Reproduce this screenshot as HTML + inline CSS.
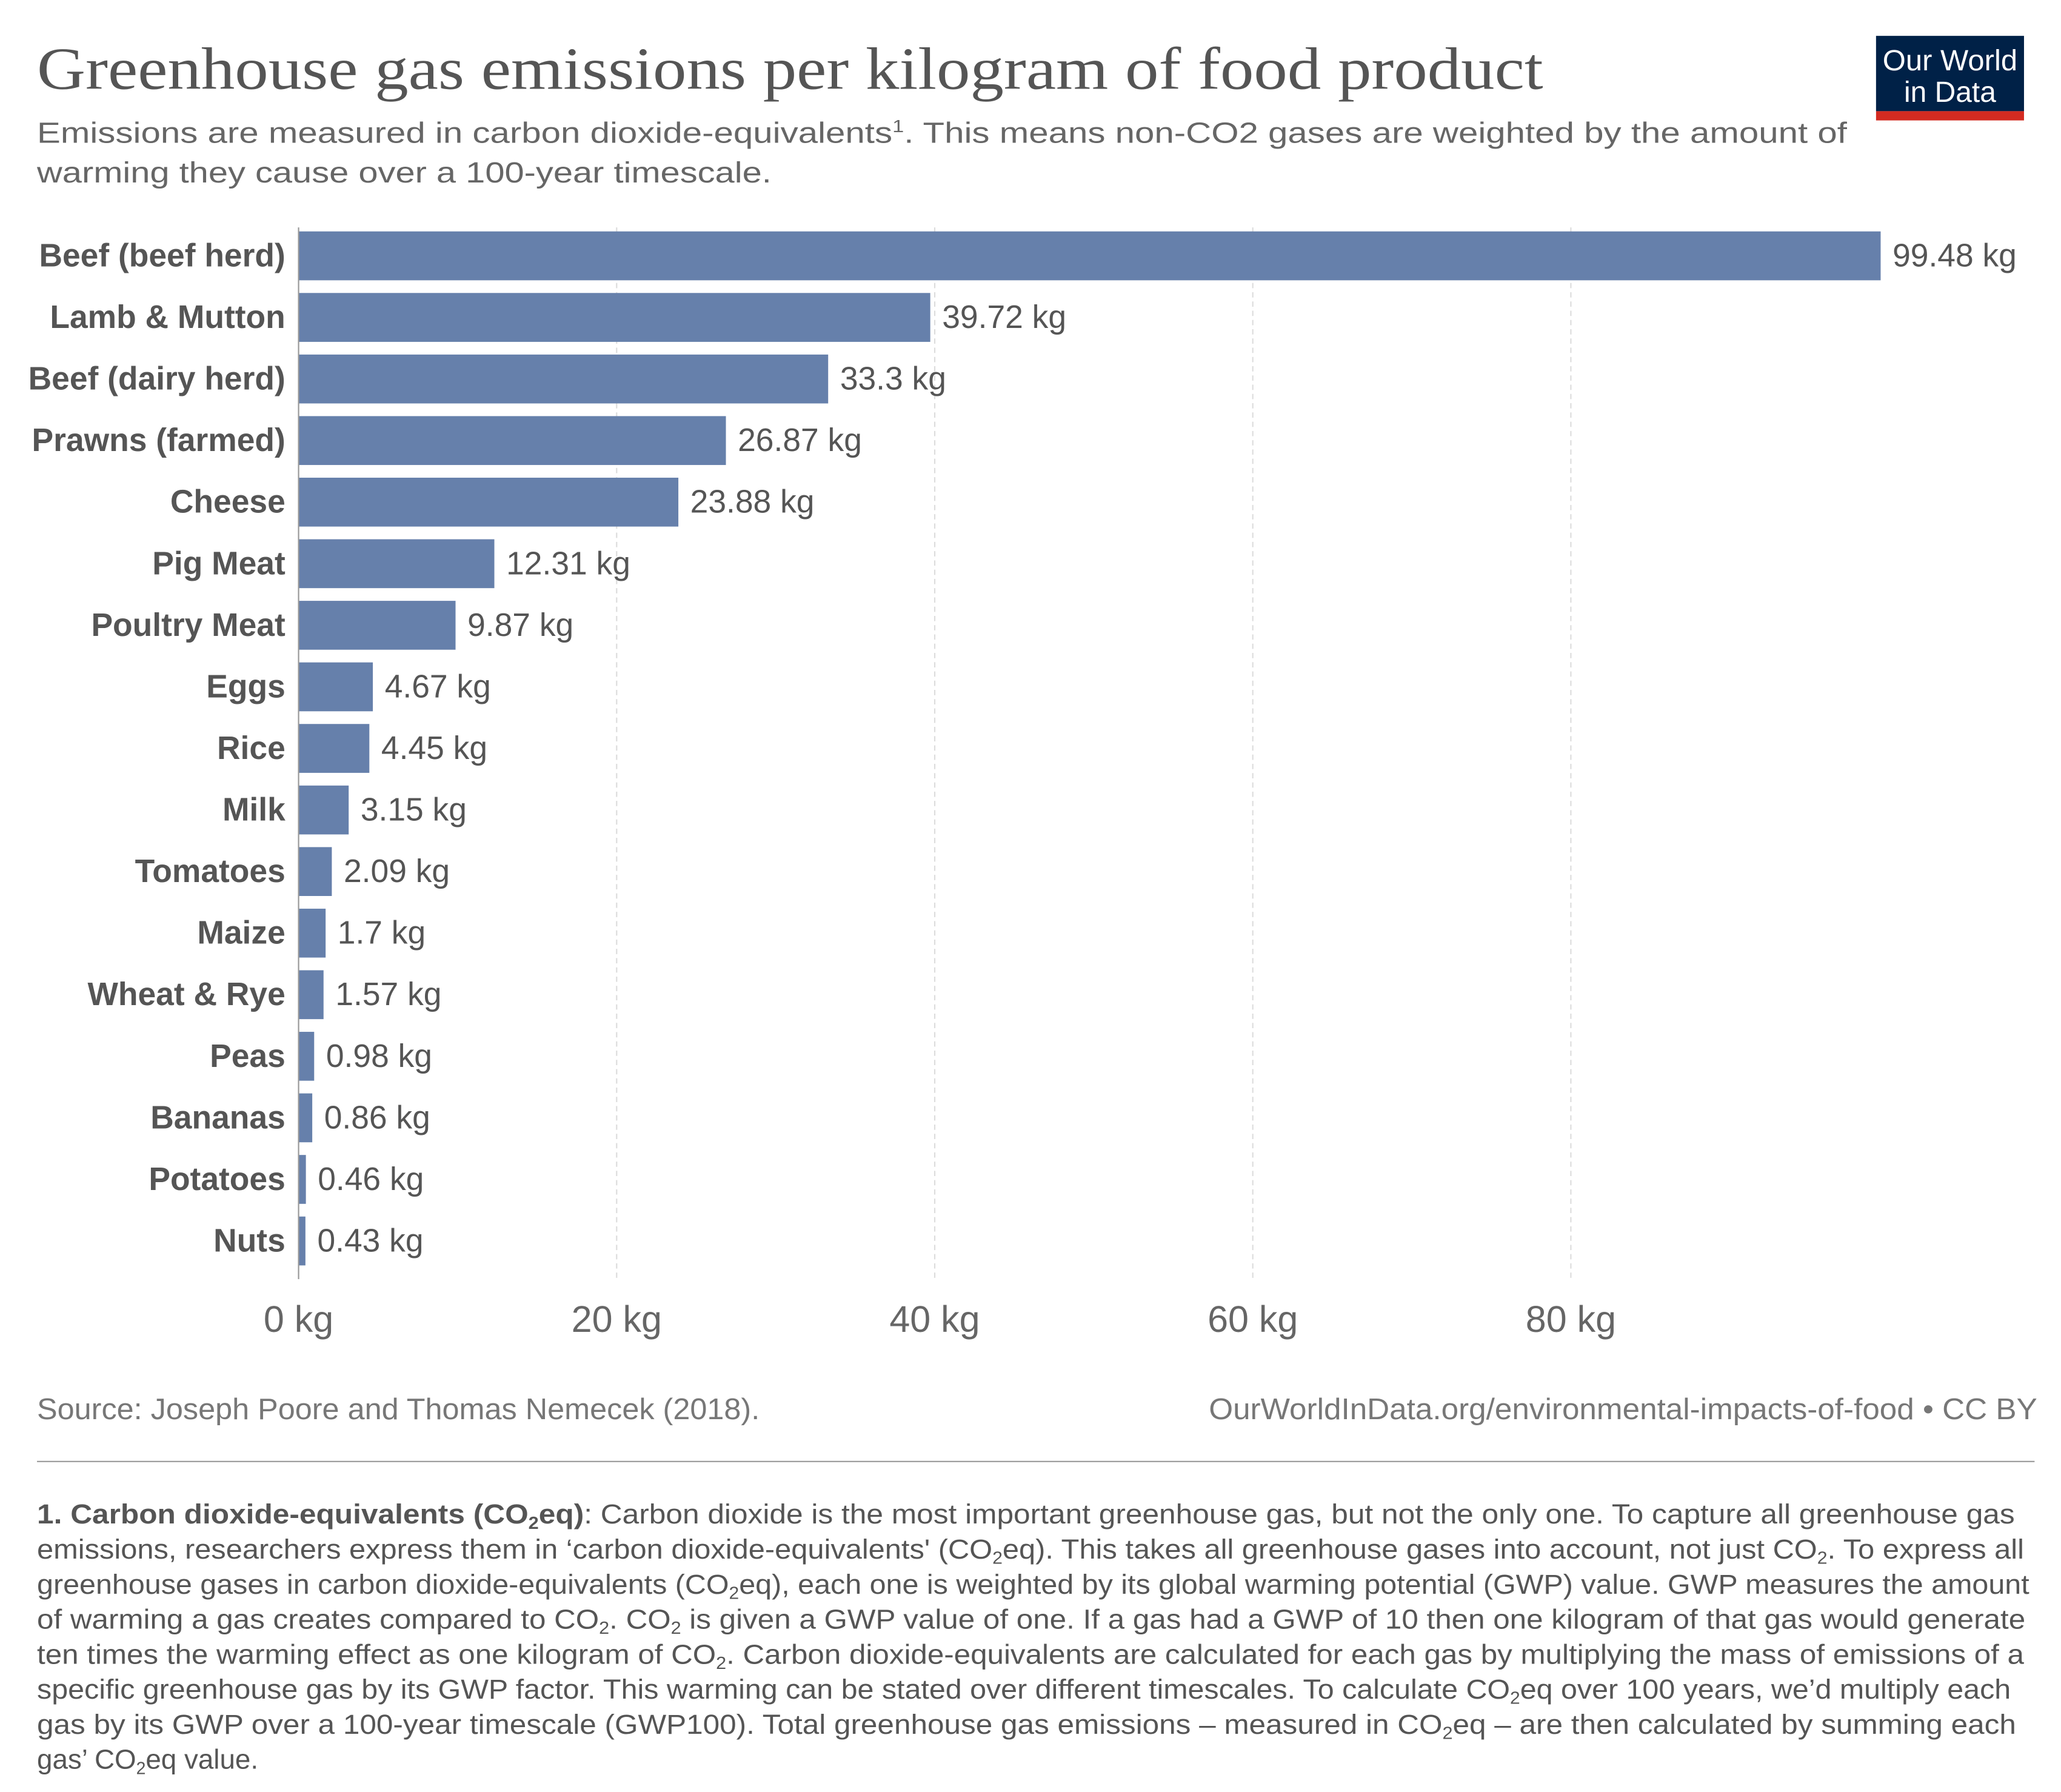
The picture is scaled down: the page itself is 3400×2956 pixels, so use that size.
<!DOCTYPE html>
<html><head><meta charset="utf-8"><style>html,body{margin:0;padding:0;background:#fff}svg{display:block}</style></head>
<body>
<svg id="chart" width="3400" height="2956" viewBox="0 0 1560 1356" xmlns="http://www.w3.org/2000/svg" font-family="'Liberation Sans', sans-serif">
<rect width="1560" height="1356" fill="#fff"/>
<text x="28" y="67" font-family="'Liberation Serif', serif" font-size="45" fill="#555" textLength="1140" lengthAdjust="spacingAndGlyphs">Greenhouse gas emissions per kilogram of food product</text>
<text x="28" y="108" font-size="22" fill="#666" textLength="1370" lengthAdjust="spacingAndGlyphs">Emissions are measured in carbon dioxide-equivalents<tspan font-size="13" dy="-8">1</tspan><tspan dy="8">. This means non-CO2 gases are weighted by the amount of</tspan></text>
<text x="28" y="138" font-size="22" fill="#666" textLength="556" lengthAdjust="spacingAndGlyphs">warming they cause over a 100-year timescale.</text>
<g>
<rect x="1420" y="27" width="112" height="57" fill="#002147"/>
<rect x="1420" y="84" width="112" height="7" fill="#d42b21"/>
<text x="1476" y="53" font-size="22" fill="#fff" text-anchor="middle" textLength="102" lengthAdjust="spacingAndGlyphs">Our World</text>
<text x="1476" y="77" font-size="22" fill="#fff" text-anchor="middle">in Data</text>
</g>
<g id="grid"></g>
<g id="bars"></g>
<line x1="226" y1="172" x2="226" y2="968" stroke="#999" stroke-width="1"/>
<text x="28" y="1074" font-size="22.5" fill="#777" textLength="547" lengthAdjust="spacingAndGlyphs">Source: Joseph Poore and Thomas Nemecek (2018).</text>
<text x="1542" y="1074" font-size="22.5" fill="#777" text-anchor="end" textLength="627" lengthAdjust="spacingAndGlyphs">OurWorldInData.org/environmental-impacts-of-food • CC BY</text>
<line x1="28" y1="1106" x2="1540" y2="1106" stroke="#999" stroke-width="1"/>
<g font-size="21" fill="#555">
<text x="28" y="1153" textLength="1497" lengthAdjust="spacingAndGlyphs"><tspan font-weight="bold">1. Carbon dioxide-equivalents (CO<tspan font-size="13" dy="4">2</tspan><tspan dy="-4">eq)</tspan></tspan>: Carbon dioxide is the most important greenhouse gas, but not the only one. To capture all greenhouse gas</text>
<text x="28" y="1179.5" textLength="1504" lengthAdjust="spacingAndGlyphs">emissions, researchers express them in ‘carbon dioxide-equivalents' (CO<tspan font-size="13" dy="4">2</tspan><tspan dy="-4">eq). This takes all greenhouse gases into account, not just CO</tspan><tspan font-size="13" dy="4">2</tspan><tspan dy="-4">. To express all</tspan></text>
<text x="28" y="1206" textLength="1508" lengthAdjust="spacingAndGlyphs">greenhouse gases in carbon dioxide-equivalents (CO<tspan font-size="13" dy="4">2</tspan><tspan dy="-4">eq), each one is weighted by its global warming potential (GWP) value. GWP measures the amount</tspan></text>
<text x="28" y="1232.5" textLength="1505" lengthAdjust="spacingAndGlyphs">of warming a gas creates compared to CO<tspan font-size="13" dy="4">2</tspan><tspan dy="-4">. CO</tspan><tspan font-size="13" dy="4">2</tspan><tspan dy="-4"> is given a GWP value of one. If a gas had a GWP of 10 then one kilogram of that gas would generate</tspan></text>
<text x="28" y="1259" textLength="1504" lengthAdjust="spacingAndGlyphs">ten times the warming effect as one kilogram of CO<tspan font-size="13" dy="4">2</tspan><tspan dy="-4">. Carbon dioxide-equivalents are calculated for each gas by multiplying the mass of emissions of a</tspan></text>
<text x="28" y="1285.5" textLength="1494" lengthAdjust="spacingAndGlyphs">specific greenhouse gas by its GWP factor. This warming can be stated over different timescales. To calculate CO<tspan font-size="13" dy="4">2</tspan><tspan dy="-4">eq over 100 years, we’d multiply each</tspan></text>
<text x="28" y="1312" textLength="1498" lengthAdjust="spacingAndGlyphs">gas by its GWP over a 100-year timescale (GWP100). Total greenhouse gas emissions – measured in CO<tspan font-size="13" dy="4">2</tspan><tspan dy="-4">eq – are then calculated by summing each</tspan></text>
<text x="28" y="1338.5">gas’ CO<tspan font-size="13" dy="4">2</tspan><tspan dy="-4">eq value.</tspan></text>
</g>
</svg>
<script>
const categories = ["Beef (beef herd)","Lamb & Mutton","Beef (dairy herd)","Prawns (farmed)","Cheese","Pig Meat","Poultry Meat","Eggs","Rice","Milk","Tomatoes","Maize","Wheat & Rye","Peas","Bananas","Potatoes","Nuts"];
const values = [99.48,39.72,33.3,26.87,23.88,12.31,9.87,4.67,4.45,3.15,2.09,1.7,1.57,0.98,0.86,0.46,0.43];
const valueLabels = ["99.48 kg","39.72 kg","33.3 kg","26.87 kg","23.88 kg","12.31 kg","9.87 kg","4.67 kg","4.45 kg","3.15 kg","2.09 kg","1.7 kg","1.57 kg","0.98 kg","0.86 kg","0.46 kg","0.43 kg"];
const ticks = [0,20,40,60,80];
const tickLabels = ["0 kg","20 kg","40 kg","60 kg","80 kg"];

const NS = "http://www.w3.org/2000/svg";
const x0 = 226, xPerUnit = (1189 - 226) / 80;
const yTop = 175, pitch = 46.6, barH = 37;
const xScale = v => x0 + v * xPerUnit;
const yScale = i => yTop + i * pitch;
function mk(tag, attrs, parent){ const e=document.createElementNS(NS,tag); for(const k in attrs) e.setAttribute(k,attrs[k]); parent.appendChild(e); return e; }

const grid = document.getElementById('grid');
ticks.forEach((t,i)=>{
  const x = xScale(t);
  if (t !== 0) {
    const l = mk('line',{x1:x,y1:172,x2:x,y2:968,stroke:'#ddd','stroke-dasharray':'4,3'},grid);
    
    
  }
  const tx = mk('text',{x:x,y:1008,'font-size':28,fill:'#666','text-anchor':'middle'},grid);
  tx.textContent = tickLabels[i];
  
  
});

const bars = document.getElementById('bars');
categories.forEach((c,i)=>{
  const y = yScale(i);
  const r = mk('rect',{x:x0,y:y,width:xScale(values[i])-x0,height:barH,fill:'#6680ab'},bars);
  
  
  const lab = mk('text',{x:216,y:y+barH/2+8,'font-size':24.5,'font-weight':'bold',fill:'#555','text-anchor':'end'},bars);
  lab.textContent = c;
  
  
  const v = mk('text',{x:xScale(values[i])+9,y:y+barH/2+8,'font-size':24.5,fill:'#555'},bars);
  v.textContent = valueLabels[i];
  
  
});
</script>
</body></html>
